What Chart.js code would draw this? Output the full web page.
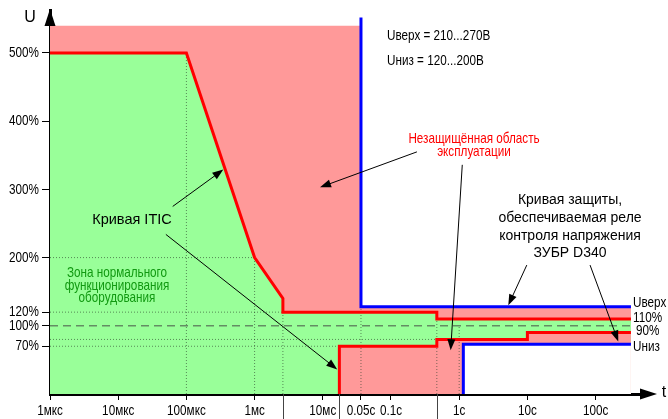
<!DOCTYPE html>
<html>
<head>
<meta charset="utf-8">
<script src="https://cdn.jsdelivr.net/npm/chart.js@4.4.0/dist/chart.umd.min.js"></script>
<style>
  html, body { margin: 0; padding: 0; background: #fff; }
  #wrap { width: 668px; height: 419px; }
</style>
</head>
<body>
<div id="wrap"><canvas id="itic"></canvas></div>
<script>
const SANS = '"Liberation Sans", Arial, sans-serif';
const NARROW_SCALE = 0.78; // Arial Narrow look: squeeze Liberation Sans

// time in seconds, voltage in % of nominal
const xTickValues = [1e-6, 1e-5, 1e-4, 1e-3, 1e-2, 0.0363, 0.1, 1, 10, 100];
const xTickLabels = ['1мкс', '10мкс', '100мкс', '1мс', '10мс', '0.05с', '0.1с', '1с', '10с', '100с'];
const longTicks = [0.0026, 0.0175, 0.47];
const yTickValues = [70, 100, 120, 200, 300, 400, 500];

// ITIC curve
const iticUpperX = [1e-6, 1e-4, 1e-3, 0.0026, 0.0026, 0.47, 0.47, 330];
const iticUpperY = [500, 500, 200, 140, 120, 120, 110, 110];
const iticLowerX = [0.0175, 0.0175, 0.47, 0.47, 10, 10, 330];
const iticLowerY = [0, 70, 70, 80, 80, 90, 90];

// ZUBR D340 relay
const relayUpperX = [0.0363, 0.0363, 330];
const relayUpperY = [552, 128, 128];
const relayLowerX = [1.15, 1.15, 330];
const relayLowerY = [0, 73, 73];

// unprotected area outline (top)
const unsafeX = [1e-6, 0.0363, 0.0363, 330];
const unsafeY = [540, 540, 128, 128];

// dotted helper lines: [y, x1, x2] and [x, y1, y2]
const gridH = [[200, 1e-6, 1e-3], [120, 1e-6, 0.0026], [80, 1e-6, 0.47], [70, 1e-6, 0.0175]];
const gridV = [[1e-4, 0, 500], [1e-3, 0, 200], [0.0026, 0, 120], [0.0363, 0, 128], [0.47, 0, 110], [1, 0, 100]];
const nominalLine = [100, 1e-6, 330];

// annotation arrows in data units: [x1, y1, x2, y2]
const arrows = [
  [6.3e-5, 275, 3.48e-4, 329],
  [5.0e-5, 234, 0.0163, 36],
  [0.24, 355, 0.0091, 303],
  [1.11, 336, 0.75, 64],
  [9.8, 189, 5.25, 130],
  [83, 189, 215, 77]
];

const PINK = '#ff9999';
const GREEN = '#99ff99';

function pts(xs, ys) {
  return xs.map((x, i) => ({ x: x, y: ys[i] }));
}

function area(xs, ys, color, order) {
  return { data: pts(xs, ys), borderWidth: 0, borderColor: 'transparent', backgroundColor: color, fill: 'origin', pointRadius: 0, order: order };
}

function line(xs, ys, color, width, dash, order) {
  return { data: pts(xs, ys), borderColor: color, borderWidth: width, borderDash: dash, borderJoinStyle: 'miter', fill: false, pointRadius: 0, order: order };
}

const datasets = [
  area(unsafeX, unsafeY, PINK, 20),
  area(iticUpperX, iticUpperY, GREEN, 19),
  area(iticLowerX, iticLowerY, PINK, 18),
  area(relayLowerX, relayLowerY, '#ffffff', 17)
];
gridH.forEach(g => datasets.push(line([g[1], g[2]], [g[0], g[0]], 'rgba(40,60,40,0.6)', 1, [1, 2], 10)));
gridV.forEach(g => datasets.push(line([g[0], g[0]], [g[1], g[2]], 'rgba(40,60,40,0.6)', 1, [1, 2], 10)));
datasets.push(line([nominalLine[1], nominalLine[2]], [nominalLine[0], nominalLine[0]], 'rgba(70,80,70,0.65)', 1.5, [8, 5], 9));
datasets.push(line(iticUpperX, iticUpperY, '#ff0000', 3, [], 3));
datasets.push(line(iticLowerX, iticLowerY, '#ff0000', 3, [], 3));
datasets.push(line(relayUpperX, relayUpperY, '#0000ff', 3, [], 2));
datasets.push(line(relayLowerX, relayLowerY, '#0000ff', 3, [], 2));

// n = narrow (squeezed) text
const labels = [
  { t: 'U', x: 30, y: 18, size: 16, n: false, color: '#000', align: 'center' },
  { t: 't', x: 664, y: 393, size: 16, n: false, color: '#000', align: 'center' },
  { t: 'Uверх = 210...270В', x: 387, y: 36, size: 15, n: true, color: '#000', align: 'left' },
  { t: 'Uниз = 120...200В', x: 387, y: 61, size: 15, n: true, color: '#000', align: 'left' },
  { t: 'Незащищённая область', x: 474, y: 139, size: 15, n: true, color: '#ff0000', align: 'center' },
  { t: 'эксплуатации', x: 474, y: 152, size: 15, n: true, color: '#ff0000', align: 'center' },
  { t: 'Кривая защиты,', x: 570, y: 200, size: 14, n: false, color: '#000', align: 'center' },
  { t: 'обеспечиваемая реле', x: 570, y: 218, size: 14, n: false, color: '#000', align: 'center' },
  { t: 'контроля напряжения', x: 570, y: 236, size: 14, n: false, color: '#000', align: 'center' },
  { t: 'ЗУБР D340', x: 570, y: 253, size: 14, n: false, color: '#000', align: 'center' },
  { t: 'Кривая ITIC', x: 132, y: 220, size: 14.5, n: false, color: '#000', align: 'center' },
  { t: 'Зона нормального', x: 117, y: 273, size: 15, n: true, color: '#119911', align: 'center' },
  { t: 'функционирования', x: 117, y: 286, size: 15, n: true, color: '#119911', align: 'center' },
  { t: 'оборудования', x: 117, y: 298, size: 15, n: true, color: '#119911', align: 'center' },
  { t: 'Uверх', x: 633, y: 303, size: 15, n: true, color: '#000', align: 'left' },
  { t: '110%', x: 633, y: 318, size: 15, n: true, color: '#000', align: 'left' },
  { t: '90%', x: 636, y: 331, size: 15, n: true, color: '#000', align: 'left' },
  { t: 'Uниз', x: 633, y: 347, size: 15, n: true, color: '#000', align: 'left' }
];

function drawText(ctx, t, x, y, size, narrow, color, align) {
  ctx.save();
  ctx.translate(x, y);
  if (narrow) ctx.scale(NARROW_SCALE, 1);
  ctx.font = size + 'px ' + SANS;
  ctx.fillStyle = color;
  ctx.textAlign = align;
  ctx.textBaseline = 'middle';
  ctx.fillText(t, 0, 0);
  ctx.restore();
}

function drawArrow(ctx, x1, y1, x2, y2) {
  const a = Math.atan2(y2 - y1, x2 - x1);
  const L = 11, W = 4;
  ctx.beginPath();
  ctx.moveTo(x1, y1);
  ctx.lineTo(x2 - 8 * Math.cos(a), y2 - 8 * Math.sin(a));
  ctx.stroke();
  ctx.beginPath();
  ctx.moveTo(x2, y2);
  ctx.lineTo(x2 - L * Math.cos(a) + W * Math.sin(a), y2 - L * Math.sin(a) - W * Math.cos(a));
  ctx.lineTo(x2 - L * Math.cos(a) - W * Math.sin(a), y2 - L * Math.sin(a) + W * Math.cos(a));
  ctx.closePath();
  ctx.fill();
}

const decor = {
  id: 'decor',
  afterDraw(chart) {
    const ctx = chart.ctx;
    const xs = chart.scales.x, ys = chart.scales.y;
    const ca = chart.chartArea;
    ctx.save();

    // long unlabeled ticks under the axis
    ctx.strokeStyle = '#444';
    ctx.lineWidth = 1;
    longTicks.forEach(v => {
      const px = Math.round(xs.getPixelForValue(v)) + 0.5;
      ctx.beginPath();
      ctx.moveTo(px, ca.bottom);
      ctx.lineTo(px, chart.height);
      ctx.stroke();
    });

    // axis arrowheads
    ctx.fillStyle = '#000';
    ctx.beginPath();
    ctx.moveTo(ca.left, ca.top - 1);
    ctx.lineTo(ca.left - 5.5, ca.top + 16);
    ctx.lineTo(ca.left + 5.5, ca.top + 16);
    ctx.closePath();
    ctx.fill();
    ctx.beginPath();
    ctx.moveTo(ca.right + 7, ca.bottom);
    ctx.lineTo(ca.right - 10, ca.bottom - 5.5);
    ctx.lineTo(ca.right - 10, ca.bottom + 5.5);
    ctx.closePath();
    ctx.fill();

    // annotation arrows
    ctx.strokeStyle = '#000';
    ctx.lineWidth = 1;
    arrows.forEach(a => {
      drawArrow(ctx, xs.getPixelForValue(a[0]), ys.getPixelForValue(a[1]),
                xs.getPixelForValue(a[2]), ys.getPixelForValue(a[3]));
    });

    // tick labels in narrow type
    xTickValues.forEach((v, i) => {
      drawText(ctx, xTickLabels[i], xs.getPixelForValue(v), ca.bottom + 17, 15, true, '#000', 'center');
    });
    yTickValues.forEach(v => {
      drawText(ctx, v + '%', ca.left - 11, ys.getPixelForValue(v), 15, true, '#000', 'right');
    });

    labels.forEach(l => drawText(ctx, l.t, l.x, l.y, l.size, l.n, l.color, l.align));
    ctx.restore();
  }
};

new Chart(document.getElementById('itic'), {
  type: 'line',
  data: { datasets: datasets },
  options: {
    responsive: true,
    maintainAspectRatio: false,
    animation: false,
    layout: { padding: { left: 0, top: 10, right: 18, bottom: 0 } },
    plugins: { legend: { display: false }, tooltip: { enabled: false } },
    scales: {
      x: {
        type: 'logarithmic',
        min: 1e-6,
        max: 628,
        afterBuildTicks: s => { s.ticks = xTickValues.map(v => ({ value: v })); },
        afterFit: s => { s.height = 25; },
        grid: { drawOnChartArea: false, tickLength: 6, tickColor: '#000' },
        border: { color: '#000', width: 3 },
        ticks: { display: false, autoSkip: false }
      },
      y: {
        type: 'linear',
        min: 0,
        max: 563,
        afterBuildTicks: s => { s.ticks = yTickValues.map(v => ({ value: v })); },
        afterFit: s => { s.width = 50; },
        grid: { drawOnChartArea: false, tickLength: 8, tickColor: '#000' },
        border: { color: '#000', width: 3 },
        ticks: { display: false }
      }
    }
  },
  plugins: [decor]
});
</script>
</body>
</html>
